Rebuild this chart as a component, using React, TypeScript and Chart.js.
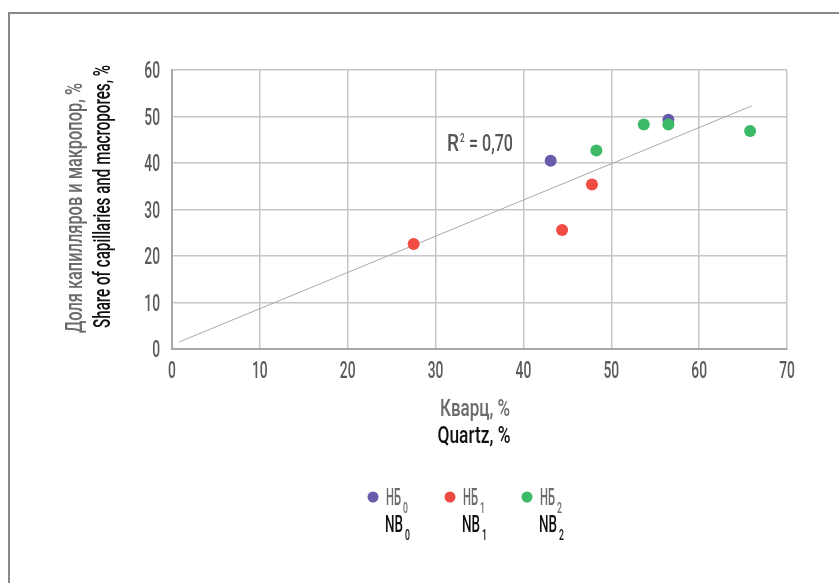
import React, { useEffect, useRef } from "react";
import { Chart, registerables } from "chart.js";

Chart.register(...registerables);

const FONT = "Roboto, 'DejaVu Sans', sans-serif";

const seriesNames = ["НБ", "НБ", "НБ"];
const seriesNamesEn = ["NB", "NB", "NB"];
const seriesSubs = ["0", "1", "2"];
const seriesColors = ["#675ca9", "#f04c43", "#3dba68"];
const seriesOrder = [3, 2, 1];

const nb0X = [43.1, 56.5];
const nb0Y = [40.5, 49.3];
const nb1X = [27.5, 44.4, 47.8];
const nb1Y = [22.6, 25.6, 35.4];
const nb2X = [48.3, 53.7, 56.5, 65.8];
const nb2Y = [42.7, 48.3, 48.3, 46.9];

const trendX = [0.8, 66.0];
const trendY = [1.5, 52.3];

const xTicks = [0, 10, 20, 30, 40, 50, 60, 70];
const yTicks = [0, 10, 20, 30, 40, 50, 60];

const r2Label = "= 0,70";
const xTitleRu = "Кварц, %";
const xTitleEn = "Quartz, %";
const yTitleRu = "Доля капилляров и макропор, %";
const yTitleEn = "Share of capillaries and macropores, %";

const GREY = "#6b6b6b";
const BLACK = "#111111";
const TICK = "#5a5a5a";

const zip = (xs: number[], ys: number[]) => xs.map((x, i) => ({ x, y: ys[i] }));

function txt(
  ctx: CanvasRenderingContext2D,
  s: string,
  x: number,
  y: number,
  size: number,
  color: string,
  opts: { sx?: number; width?: number; align?: "left" | "center" | "right"; weight?: string } = {}
) {
  ctx.font = `${opts.weight ?? "500"} ${size}px ${FONT}`;
  const w0 = ctx.measureText(s).width;
  const sx = opts.width ? opts.width / w0 : opts.sx ?? 0.62;
  const w = w0 * sx;
  const align = opts.align ?? "left";
  const left = align === "center" ? x - w / 2 : align === "right" ? x - w : x;
  ctx.save();
  ctx.translate(left, y);
  ctx.scale(sx, 1);
  ctx.textAlign = "left";
  ctx.textBaseline = "alphabetic";
  ctx.fillStyle = color;
  ctx.fillText(s, 0, 0);
  ctx.restore();
  return w;
}

const overlay = {
  id: "overlay",
  afterDraw(chart: any) {
    const ctx = chart.ctx as CanvasRenderingContext2D;
    ctx.save();
    // frame
    ctx.fillStyle = "#8b8782";
    ctx.fillRect(8, 12, 831, 2);
    ctx.fillRect(8, 12, 2, 571);

    const xs = chart.scales.x;
    const ys = chart.scales.y;

    // tick labels through the scales
    xTicks.forEach((v) => {
      txt(ctx, String(v), xs.getPixelForValue(v), 378, 23, TICK, { align: "center", sx: 0.6 });
    });
    yTicks.forEach((v) => {
      txt(ctx, String(v), 160, ys.getPixelForValue(v) + 8, 23, TICK, { align: "right", sx: 0.6 });
    });

    // R^2 label
    const rw = txt(ctx, "R", 447, 151, 24, "#555555", { width: 12 });
    txt(ctx, "2", 447 + rw + 1, 142, 13, "#555555", { sx: 0.62 });
    txt(ctx, r2Label, 513, 151, 24, "#555555", { align: "right", width: 44 });

    // x titles
    txt(ctx, xTitleRu, 475, 416, 24, GREY, { align: "center", width: 70 });
    txt(ctx, xTitleEn, 474, 443, 24, BLACK, { align: "center", width: 73 });

    // y titles
    ctx.save();
    ctx.translate(82, 208);
    ctx.rotate(-Math.PI / 2);
    txt(ctx, yTitleRu, 0, 0, 23, GREY, { align: "center", width: 250 });
    ctx.restore();
    ctx.save();
    ctx.translate(110, 196.5);
    ctx.rotate(-Math.PI / 2);
    txt(ctx, yTitleEn, 0, 0, 23, BLACK, { align: "center", width: 263 });
    ctx.restore();

    // legend
    const lx = [373, 450, 527];
    const ly = 497;
    seriesNames.forEach((name, i) => {
      ctx.fillStyle = seriesColors[i];
      ctx.beginPath();
      ctx.arc(lx[i], ly, 5.5, 0, Math.PI * 2);
      ctx.fill();
      const x0 = lx[i] + 13;
      let w = txt(ctx, name, x0, 505, 24, GREY, { width: 15 });
      txt(ctx, seriesSubs[i], x0 + w + 2, 513, 14, GREY, { sx: 0.62 });
      w = txt(ctx, seriesNamesEn[i], x0 - 1, 532, 24, BLACK, { width: 18 });
      txt(ctx, seriesSubs[i], x0 - 1 + w + 2, 540, 14, BLACK, { sx: 0.62 });
    });
    ctx.restore();
  },
};

export default function App() {
  const ref = useRef<HTMLCanvasElement>(null);
  useEffect(() => {
    const chart = new Chart(ref.current!, {
      type: "scatter",
      data: {
        datasets: [
          {
            label: "trend",
            data: zip(trendX, trendY),
            showLine: true,
            borderColor: "#a9a9a9",
            borderWidth: 1,
            pointRadius: 0,
            order: 4,
          } as any,
          ...[zip(nb0X, nb0Y), zip(nb1X, nb1Y), zip(nb2X, nb2Y)].map((d, i) => ({
            label: seriesNames[i] + seriesSubs[i],
            data: d,
            backgroundColor: seriesColors[i],
            borderColor: seriesColors[i],
            pointRadius: 6,
            borderWidth: 0,
            order: seriesOrder[i],
          })),
        ],
      },
      options: {
        animation: false,
        responsive: false,
        maintainAspectRatio: false,
        layout: { padding: { left: 132, top: 70, right: 52, bottom: 194 } },
        plugins: { legend: { display: false }, tooltip: { enabled: false } },
        scales: {
          x: {
            type: "linear",
            min: 0,
            max: 70,
            afterFit: (s: any) => { s.height = 40; },
            afterBuildTicks: (s: any) => { s.ticks = xTicks.map((v) => ({ value: v })); },
            grid: { color: "#c6c6c6", lineWidth: 1.5, drawTicks: false },
            border: { color: "#a8a8a8", width: 2 },
            ticks: { display: false },
          },
          y: {
            type: "linear",
            min: 0,
            max: 60,
            afterFit: (s: any) => { s.width = 40; },
            afterBuildTicks: (s: any) => { s.ticks = yTicks.map((v) => ({ value: v })); },
            grid: { color: "#c6c6c6", lineWidth: 1.5, drawTicks: false },
            border: { color: "#a8a8a8", width: 2 },
            ticks: { display: false },
          },
        },
      },
      plugins: [overlay],
    });
    return () => chart.destroy();
  }, []);
  return (
    <div style={{ position: "fixed", left: 0, top: 0, width: 839, height: 583, background: "#fff" }}>
      <canvas ref={ref} width={839} height={583} style={{ display: "block" }} />
    </div>
  );
}
